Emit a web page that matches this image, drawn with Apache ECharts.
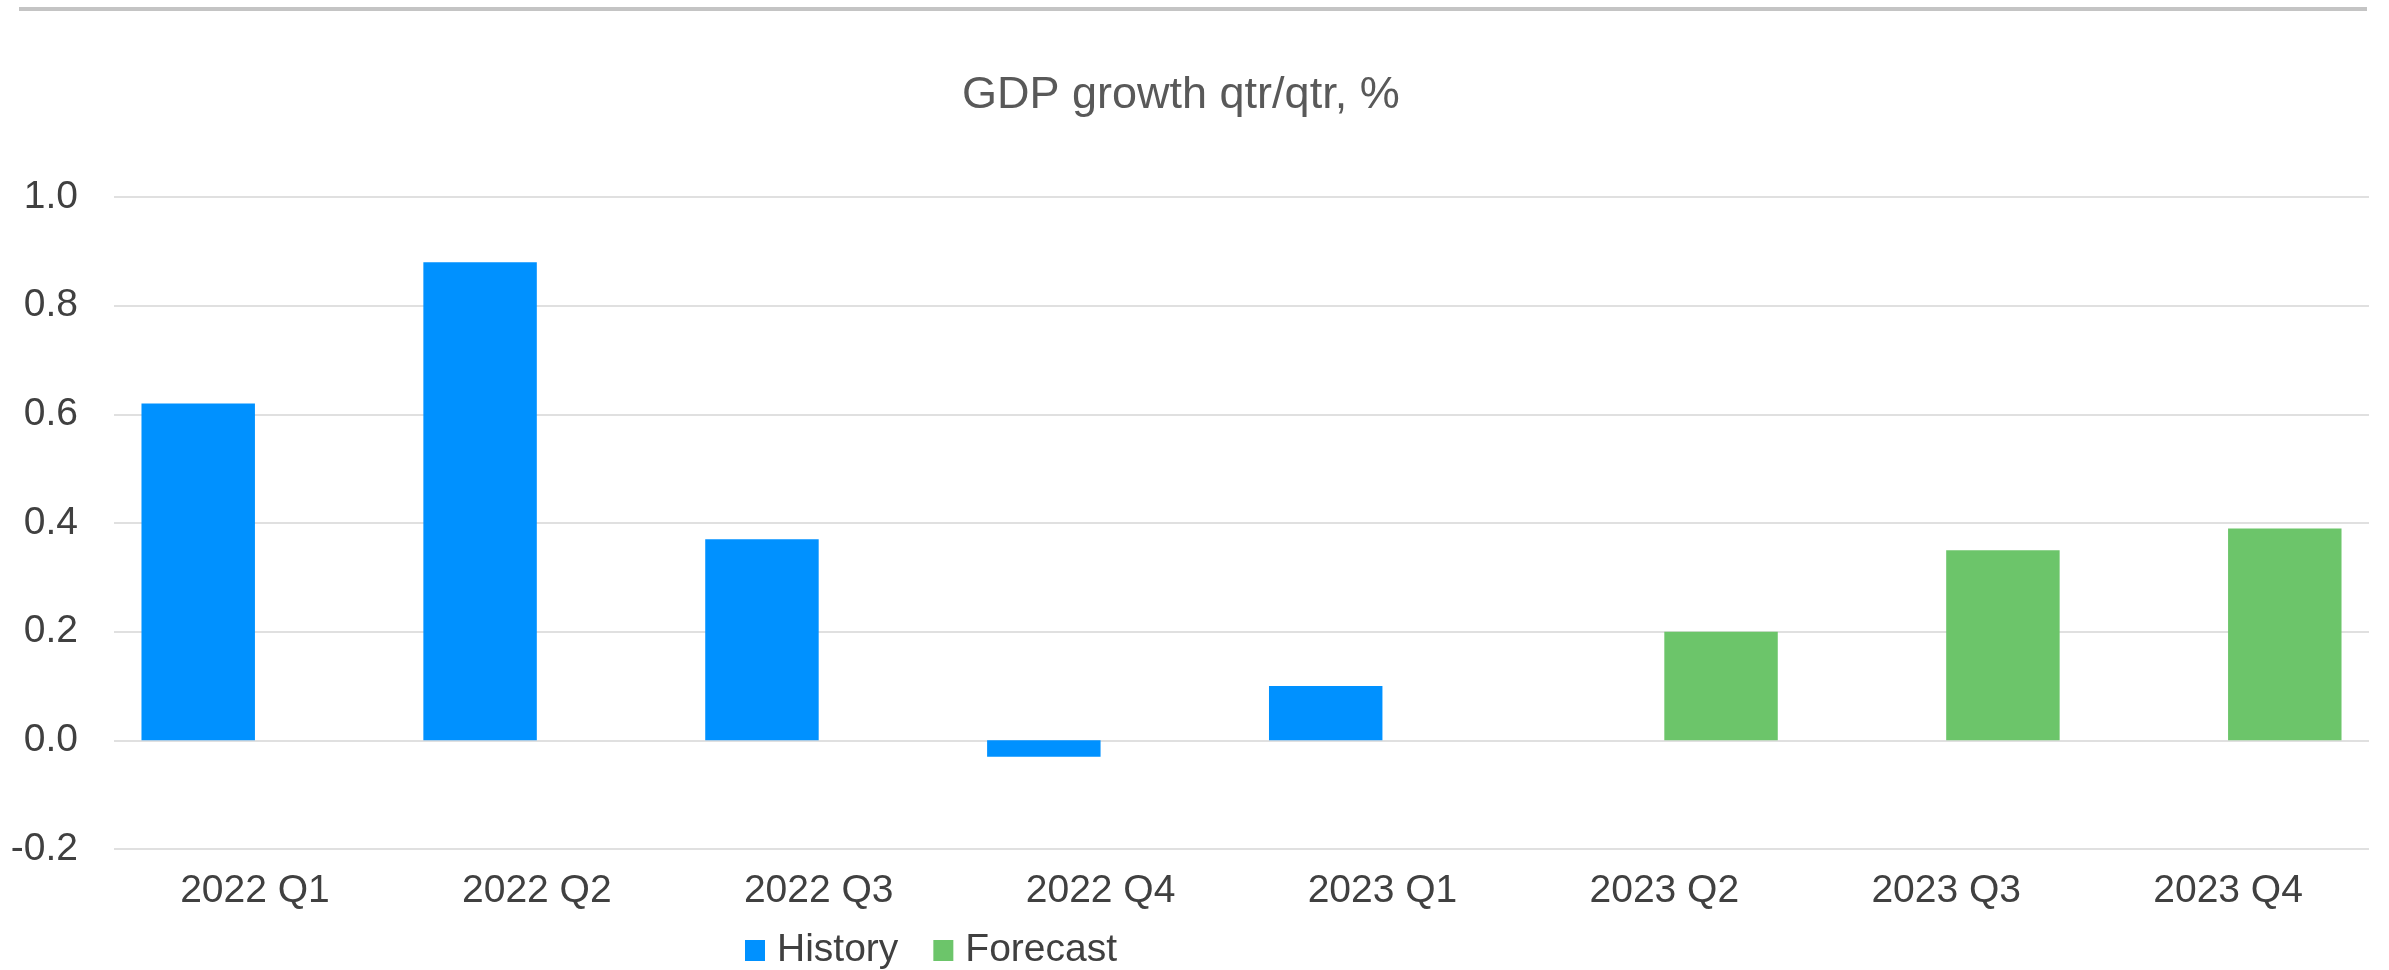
<!DOCTYPE html>
<html>
<head>
<meta charset="utf-8">
<title>GDP growth qtr/qtr, %</title>
<script src="https://cdn.jsdelivr.net/npm/echarts@6/dist/echarts.min.js"></script>
<style>
  html, body { margin: 0; padding: 0; background: #ffffff; }
  #chart { width: 2389px; height: 970px; }
</style>
</head>
<body>
<div id="chart"></div>
<script>
// Quarterly GDP growth, quarter on quarter, in percent
const quarters = ['2022 Q1', '2022 Q2', '2022 Q3', '2022 Q4', '2023 Q1', '2023 Q2', '2023 Q3', '2023 Q4'];
const history  = [0.62, 0.88, 0.37, -0.03, 0.10, null, null, null];
const forecast = [null, null, null, null, null, 0.20, 0.35, 0.39];
const yTicks = { min: -0.2, max: 1.0, step: 0.2 };

const FONT = '"Liberation Sans", Arial, sans-serif';
const chart = echarts.init(document.getElementById('chart'), null, { renderer: 'canvas' });

chart.setOption({
  backgroundColor: '#ffffff',
  animation: false,
  textStyle: { fontFamily: FONT },
  graphic: [{
    type: 'rect',
    shape: { x: 19, y: 7, width: 2348, height: 4 },
    style: { fill: '#c4c4c4' },
    silent: true
  }],
  title: {
    text: 'GDP growth qtr/qtr, %',
    left: 962,
    top: 73,
    padding: 0,
    textStyle: { fontFamily: FONT, fontSize: 45, fontWeight: 'normal', color: '#595959' }
  },
  legend: {
    data: ['History', 'Forecast'],
    left: 745,
    top: 931,
    padding: 0,
    itemWidth: 20,
    itemHeight: 21,
    itemGap: 35,
    icon: 'rect',
    textStyle: { fontFamily: FONT, fontSize: 39, color: '#404040', padding: [0, 0, 0, 7] }
  },
  grid: { left: 114, right: 20, top: 197, bottom: 121, containLabel: false },
  xAxis: {
    type: 'category',
    data: quarters,
    axisLine: { show: false },
    axisTick: { show: false },
    axisLabel: { fontFamily: FONT, fontSize: 39, color: '#404040', margin: 23 },
    splitLine: { show: false }
  },
  yAxis: {
    type: 'value',
    min: yTicks.min,
    max: yTicks.max,
    interval: yTicks.step,
    axisLine: { show: false },
    axisTick: { show: false },
    axisLabel: {
      fontFamily: FONT, fontSize: 39, color: '#404040', margin: 36,
      formatter: v => v.toFixed(1)
    },
    splitLine: { lineStyle: { color: '#e0e0e0', width: 2 } }
  },
  series: [
    {
      name: 'History',
      type: 'bar',
      data: history,
      itemStyle: { color: '#0091ff' },
      barGap: '0%',
      barCategoryGap: '19.5%'
    },
    {
      name: 'Forecast',
      type: 'bar',
      data: forecast,
      itemStyle: { color: '#6cc56a' },
      barGap: '0%',
      barCategoryGap: '19.5%'
    }
  ]
});
</script>
</body>
</html>
